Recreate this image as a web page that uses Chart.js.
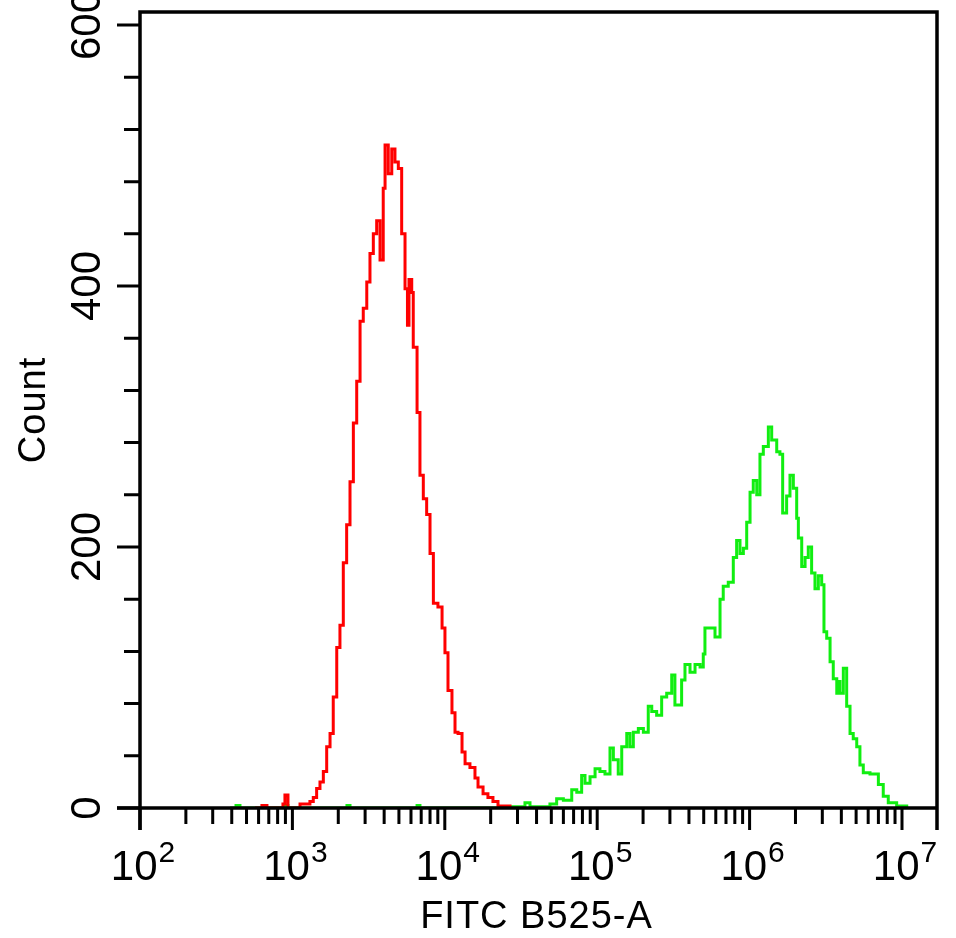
<!DOCTYPE html>
<html lang="en">
  <head>
    <meta charset="UTF-8" />
    <title>FITC B525-A histogram</title>
    <script src="https://cdn.jsdelivr.net/npm/chart.js"></script>
    <style>
      html, body { margin: 0; padding: 0; background: #fff; }
      #histo { display: block; }
    </style>
  </head>
  <body>
    <canvas id="histo" width="956" height="938"></canvas>

    <script>
      // exponents (log10 of FITC B525-A) where each histogram step starts, and the count of that step
      const redExp = [2.755, 2.800, 2.833, 2.938, 2.951, 2.971, 3.050, 3.115, 3.137, 3.159, 3.181, 3.203,
        3.225, 3.247, 3.268, 3.291, 3.312, 3.334, 3.356, 3.378, 3.400, 3.422, 3.444, 3.465, 3.488,
        3.509, 3.531, 3.553, 3.575, 3.596, 3.608, 3.629, 3.652, 3.673, 3.695, 3.717, 3.739, 3.755,
        3.765, 3.783, 3.793, 3.818, 3.837, 3.859, 3.881, 3.903, 3.925, 3.955, 3.982, 4.001, 4.021,
        4.047, 4.067, 4.087, 4.113, 4.133, 4.165, 4.198, 4.218, 4.251, 4.283, 4.316, 4.349, 4.428]
      const redCount = [0, 2, 0, 3, 10, 0, 3, 5, 8, 15, 20, 28,
        47, 57, 85, 123, 140, 188, 217, 250, 295, 327, 373, 383, 403,
        425, 440, 450, 420, 475, 508, 486, 505, 495, 490, 440, 398, 370,
        405, 395, 353, 303, 255, 237, 225, 195, 157, 154, 138, 119, 90,
        73, 58, 57, 43, 34, 31, 23, 16, 11, 8, 5, 1.5, 0]

      const greenExp = [2.591, 2.630, 2.656, 2.945, 2.971, 3.358, 3.378, 3.818, 3.837, 4.395, 4.439,
        4.493, 4.526, 4.559, 4.690, 4.734, 4.778, 4.833, 4.866, 4.898, 4.920, 4.953, 4.986, 5.018,
        5.051, 5.084, 5.106, 5.138, 5.161, 5.194, 5.215, 5.237, 5.270, 5.303, 5.335, 5.358, 5.390,
        5.423, 5.456, 5.489, 5.510, 5.554, 5.576, 5.609, 5.642, 5.675, 5.696, 5.707, 5.773, 5.806,
        5.827, 5.860, 5.893, 5.915, 5.937, 5.959, 5.981, 6.003, 6.024, 6.047, 6.068, 6.090, 6.123,
        6.145, 6.178, 6.199, 6.217, 6.243, 6.265, 6.287, 6.309, 6.320, 6.342, 6.364, 6.385, 6.407,
        6.429, 6.451, 6.473, 6.488, 6.506, 6.528, 6.549, 6.572, 6.582, 6.593, 6.615, 6.637, 6.659,
        6.680, 6.703, 6.724, 6.746, 6.790, 6.845, 6.877, 6.910, 6.965, 7.031]
      const greenCount = [0, 2, 0, 2, 0, 2, 0, 2, 0, 0, 1,
        1, 4, 1, 3, 7, 6, 14, 12, 25, 19, 24, 30, 28,
        26, 46, 37, 26, 47, 57, 47, 58, 61, 58, 78, 74, 71,
        85, 88, 102, 79, 98, 110, 104, 110, 108, 118, 138, 131, 160,
        170, 173, 192, 205, 195, 199, 219, 242, 251, 240, 271, 277, 292,
        282, 273, 271, 226, 239, 255, 245, 222, 207, 185, 192, 200, 180,
        168, 178, 171, 135, 130, 112, 99, 88, 97, 88, 107, 78, 57,
        53, 47, 33, 27, 26, 18, 9, 4, 1.5, 0]

      // axes
      const xDecades = [2, 3, 4, 5, 6, 7]
      const xMinorMult = [2, 3, 4, 5, 6, 7, 8, 9]
      const xMin = 100
      const xMax = 16970000
      const yTicks = [0, 40, 80, 120, 160, 200, 240, 280, 320, 360, 400, 440, 480, 520, 560, 600]
      const yLabels = [0, 200, 400, 600]
      const yMax = 610

      const fontName = '"Liberation Sans", Arial, sans-serif'

      function toPoints(exps, counts) {
        let pts = []
        for (let i = 0; i < exps.length; i++) {
          pts.push({ x: Math.pow(10, exps[i]), y: counts[i] })
        }
        return pts
      }

      // frame, ticks and labels drawn on top of the curves
      const axesPlugin = {
        id: 'cytoAxes',
        afterDatasetsDraw(chart) {
          const ctx = chart.ctx
          const sx = chart.scales.x
          const sy = chart.scales.y
          const a = chart.chartArea
          ctx.save()
          ctx.strokeStyle = '#000'
          ctx.fillStyle = '#000'
          ctx.lineWidth = 3.5
          ctx.lineCap = 'butt'

          // box
          ctx.beginPath()
          ctx.moveTo(a.left, a.bottom + 22)
          ctx.lineTo(a.left, a.top)
          ctx.lineTo(a.right, a.top)
          ctx.lineTo(a.right, a.bottom + 22)
          ctx.moveTo(a.left - 23, a.bottom)
          ctx.lineTo(a.right, a.bottom)
          ctx.stroke()

          // x ticks
          ctx.lineWidth = 3
          ctx.beginPath()
          for (let i = 0; i < xDecades.length; i++) {
            const d = xDecades[i]
            const px = sx.getPixelForValue(Math.pow(10, d))
            ctx.moveTo(px, a.bottom)
            ctx.lineTo(px, a.bottom + 22)
            if (i < xDecades.length - 1) {
              for (let k = 0; k < xMinorMult.length; k++) {
                const mx = sx.getPixelForValue(xMinorMult[k] * Math.pow(10, d))
                ctx.moveTo(mx, a.bottom)
                ctx.lineTo(mx, a.bottom + 16)
              }
            }
          }
          ctx.stroke()

          // y ticks
          ctx.beginPath()
          for (let i = 0; i < yTicks.length; i++) {
            const py = sy.getPixelForValue(yTicks[i])
            const len = yLabels.includes(yTicks[i]) ? 23 : 16
            ctx.moveTo(a.left - len, py)
            ctx.lineTo(a.left, py)
          }
          ctx.stroke()

          // x labels: 10 with superscript exponent
          ctx.textBaseline = 'alphabetic'
          ctx.textAlign = 'left'
          for (let i = 0; i < xDecades.length; i++) {
            const px = sx.getPixelForValue(Math.pow(10, xDecades[i]))
            ctx.font = '42px ' + fontName
            const w1 = ctx.measureText('10').width
            ctx.font = '30px ' + fontName
            const w2 = ctx.measureText(String(xDecades[i])).width
            const start = px + 3 - (w1 + 1 + w2) / 2
            ctx.font = '42px ' + fontName
            ctx.fillText('10', start, 880)
            ctx.font = '30px ' + fontName
            ctx.fillText(String(xDecades[i]), start + w1 + 1, 862)
          }

          // y labels, rotated
          ctx.font = '42px ' + fontName
          ctx.textAlign = 'center'
          for (let i = 0; i < yLabels.length; i++) {
            const py = sy.getPixelForValue(yLabels[i])
            ctx.save()
            ctx.translate(100, py)
            ctx.rotate(-Math.PI / 2)
            ctx.fillText(String(yLabels[i]), 0, 0)
            ctx.restore()
          }

          // axis titles
          ctx.font = '38px ' + fontName
          ctx.textAlign = 'center'
          ctx.letterSpacing = '1px'
          ctx.fillText('FITC B525-A', (a.left + a.right) / 2 - 2, 928)
          ctx.save()
          ctx.translate(45, (a.top + a.bottom) / 2)
          ctx.rotate(-Math.PI / 2)
          ctx.fillText('Count', 0, 0)
          ctx.restore()

          ctx.restore()
        }
      }

      new Chart(document.getElementById('histo').getContext('2d'), {
        type: 'line',
        data: {
          datasets: [
            {
              label: 'Control',
              data: toPoints(redExp, redCount),
              borderColor: '#ff0000',
              borderWidth: 3,
              stepped: true,
              pointRadius: 0,
              fill: false
            },
            {
              label: 'FITC',
              data: toPoints(greenExp, greenCount),
              borderColor: '#11ee11',
              borderWidth: 3,
              stepped: true,
              pointRadius: 0,
              fill: false
            }
          ]
        },
        options: {
          responsive: false,
          devicePixelRatio: 1,
          animation: false,
          layout: { padding: { left: 140, right: 19, top: 12, bottom: 130 } },
          scales: {
            x: { type: 'logarithmic', min: xMin, max: xMax, display: false },
            y: { type: 'linear', min: 0, max: yMax, display: false }
          },
          plugins: {
            legend: { display: false },
            tooltip: { enabled: false }
          }
        },
        plugins: [axesPlugin]
      })
    </script>
  </body>
</html>
